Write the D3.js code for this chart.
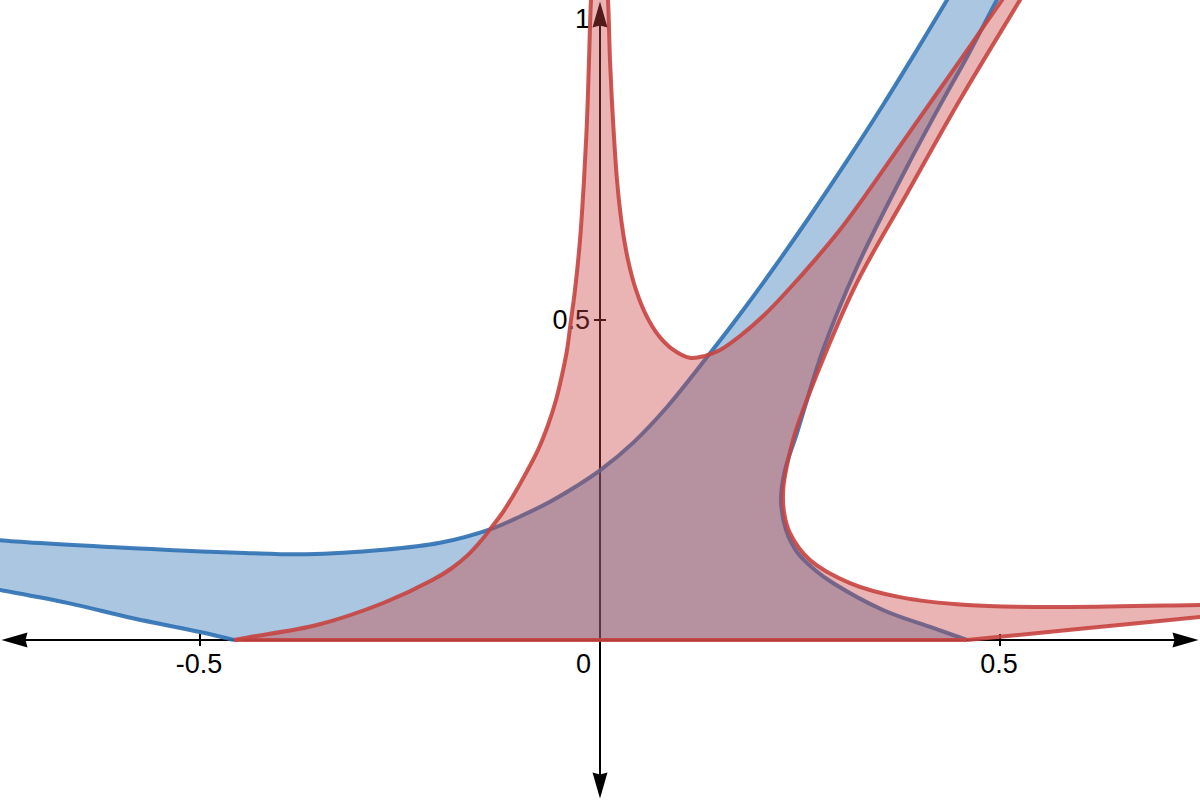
<!DOCTYPE html>
<html>
<head>
<meta charset="utf-8">
<script src="https://cdn.jsdelivr.net/npm/d3@7"></script>
<style>
  html, body { margin: 0; padding: 0; background: #ffffff; }
  svg { display: block; }
  .lbl { font-family: "Liberation Sans", Arial, sans-serif; font-size: 27px; fill: #000; }
</style>
</head>
<body>
<svg id="chart" width="1200" height="800"></svg>
<script>
// ---- data (data units) ----
const blueUpper = [
  [-0.7625, 0.158], [-0.75, 0.156], [-0.606, 0.145], [-0.444, 0.136], [-0.3675, 0.134],
  [-0.271, 0.141], [-0.200, 0.152], [-0.1375, 0.173], [-0.100, 0.193], [-0.0625, 0.216],
  [-0.03125, 0.239], [0.000, 0.265], [0.04125, 0.308], [0.08375, 0.364], [0.1375, 0.448],
  [0.175, 0.509], [0.21875, 0.584], [0.2625, 0.6625], [0.3125, 0.756], [0.35375, 0.836],
  [0.39375, 0.917], [0.43375, 1.000], [0.450, 1.035]
];
const blueLowerLeft = [
  [-0.7625, 0.081], [-0.75, 0.078], [-0.666, 0.058], [-0.584, 0.034], [-0.5, 0.0125], [-0.4575, 0]
];
const blueLowerRight = [
  [0.50375, 1.0156], [0.49625, 1.0], [0.45875, 0.9109], [0.42875, 0.8438], [0.38375, 0.7391],
  [0.32125, 0.5828], [0.27875, 0.4531], [0.24625, 0.3234], [0.23125, 0.2656], [0.22625, 0.2188],
  [0.2325, 0.1719], [0.24625, 0.1375], [0.26875, 0.1094], [0.29125, 0.0891], [0.35375, 0.0469],
  [0.41625, 0.0188], [0.45875, 0]
];
const redLeft = [
  [-0.4575, 0], [-0.4375, 0.0047], [-0.354, 0.0234], [-0.271, 0.0578], [-0.209, 0.094],
  [-0.185, 0.1125], [-0.165, 0.133], [-0.14875, 0.155], [-0.135, 0.177], [-0.12125, 0.200],
  [-0.10875, 0.225], [-0.09375, 0.258], [-0.0775, 0.297], [-0.065, 0.336], [-0.055, 0.375],
  [-0.0475, 0.414], [-0.04125, 0.453], [-0.03625, 0.5], [-0.03125, 0.547], [-0.025, 0.625],
  [-0.02, 0.719], [-0.01625, 0.8125], [-0.01375, 0.906], [-0.01125, 1.0], [-0.009, 1.035]
];
const redInner = [
  [0.0075, 1.035], [0.01, 1.0], [0.0125, 0.906], [0.01625, 0.8125], [0.02125, 0.719],
  [0.0275, 0.648], [0.035, 0.594], [0.045, 0.547], [0.0575, 0.508], [0.0725, 0.477],
  [0.09, 0.455], [0.1125, 0.441], [0.13125, 0.444], [0.15, 0.453], [0.175, 0.475],
  [0.20625, 0.509], [0.2375, 0.550], [0.26875, 0.594], [0.3, 0.641], [0.33125, 0.694],
  [0.375, 0.772], [0.41875, 0.85], [0.4625, 0.928], [0.5025, 1.0], [0.515, 1.022]
];
const redOuter = [
  [0.5325, 1.016], [0.525, 1.0], [0.45, 0.844], [0.384, 0.698], [0.321, 0.558], [0.275, 0.427],
  [0.24375, 0.323], [0.23375, 0.273], [0.229, 0.235], [0.23, 0.200], [0.2375, 0.167],
  [0.2625, 0.125], [0.3125, 0.089], [0.375, 0.067], [0.459, 0.0547], [0.584, 0.0516],
  [0.75, 0.0547], [0.7625, 0.0547]
];
const redLowerRight = [
  [0.459, 0], [0.604, 0.018], [0.75, 0.036], [0.7625, 0.0375]
];
const baseSegment = [[-0.4575, 0], [0.459, 0]];

const xTickValues = [-0.5, 0.5];
const xTickLabels = ["-0.5", "0.5"];
const yTickValues = [0.5, 1];
const yTickLabels = ["0.5", "1"];
const originLabel = "0";

const blueColor = "#2d70b3";
const redColor = "#c74440";

// ---- scales ----
const W = 1200, H = 800;
const x = d3.scaleLinear().domain([-0.75, 0.75]).range([0, W]);
const y = d3.scaleLinear().domain([-0.25, 1]).range([H, 0]);

const svg = d3.select("#chart");
svg.append("defs").append("clipPath").attr("id", "clip")
  .append("rect").attr("x", 0).attr("y", 0).attr("width", W).attr("height", H);

const line = d3.line().x(d => x(d[0])).y(d => y(d[1])).curve(d3.curveCatmullRom.alpha(0.5));
const straight = d3.line().x(d => x(d[0])).y(d => y(d[1]));

function joinPaths(parts) {
  return parts.map((p, i) => i === 0 ? p : p.replace(/^M/, "L")).join("") + "Z";
}
const rev = a => a.slice().reverse();

// ---- axes (drawn under fills) ----
const axes = svg.append("g").attr("class", "axes");
const x0 = x(0), y0 = y(0);
const axColor = "#000";
axes.append("line").attr("x1", x(-0.75) + 14).attr("x2", x(0.75) - 14)
  .attr("y1", y0).attr("y2", y0).attr("stroke", axColor).attr("stroke-width", 2);
axes.append("line").attr("y1", y(1) + 14).attr("y2", y(-0.25) - 14)
  .attr("x1", x0).attr("x2", x0).attr("stroke", axColor).attr("stroke-width", 2);
// arrowheads
const aL = 26, aW = 7.5, tipPad = 1.5;
function arrow(tx, ty, dx, dy) {
  const bx = tx - dx * aL, by = ty - dy * aL;
  const px = -dy, py = dx;
  return `M${tx},${ty}L${bx + px * aW},${by + py * aW}L${bx + dx * 2},${by + dy * 2}L${bx - px * aW},${by - py * aW}Z`;
}
axes.append("path").attr("d", arrow(x(-0.75) + tipPad, y0, -1, 0)).attr("fill", axColor);
axes.append("path").attr("d", arrow(x(0.75) - tipPad, y0, 1, 0)).attr("fill", axColor);
axes.append("path").attr("d", arrow(x0, y(1) + tipPad, 0, -1)).attr("fill", axColor);
axes.append("path").attr("d", arrow(x0, y(-0.25) - tipPad, 0, 1)).attr("fill", axColor);

// ticks
axes.selectAll(".xt").data(xTickValues).enter().append("line")
  .attr("x1", d => x(d)).attr("x2", d => x(d)).attr("y1", y0 - 6).attr("y2", y0 + 6)
  .attr("stroke", axColor).attr("stroke-width", 2);
axes.selectAll(".yt").data(yTickValues.filter(v => v < 1)).enter().append("line")
  .attr("y1", d => y(d)).attr("y2", d => y(d)).attr("x1", x0 - 6).attr("x2", x0 + 6)
  .attr("stroke", axColor).attr("stroke-width", 2);

// labels
axes.selectAll(".xl").data(xTickValues).enter().append("text").attr("class", "lbl")
  .attr("x", d => x(d) - 1).attr("y", y0 + 33).attr("text-anchor", "middle")
  .text((d, i) => xTickLabels[i]);
axes.selectAll(".yl").data(yTickValues).enter().append("text").attr("class", "lbl")
  .attr("x", x0 - 10).attr("y", d => d === 1 ? y(d) + 28 : y(d) + 9).attr("text-anchor", "end")
  .text((d, i) => yTickLabels[i]);
axes.append("text").attr("class", "lbl").attr("x", x0 - 9).attr("y", y0 + 33)
  .attr("text-anchor", "end").text(originLabel);

// ---- regions ----
const plot = svg.append("g").attr("clip-path", "url(#clip)");

const blueFill = joinPaths([line(blueUpper), line(blueLowerRight), straight(rev(baseSegment)), line(rev(blueLowerLeft))]);
const redFill = joinPaths([line(redLeft), line(redInner), line(redOuter), line(rev(redLowerRight)), straight(rev(baseSegment))]);

plot.append("path").attr("d", blueFill).attr("fill", blueColor).attr("fill-opacity", 0.4).attr("stroke", "none");
[blueUpper, blueLowerLeft, blueLowerRight].forEach(c => {
  plot.append("path").attr("d", line(c)).attr("fill", "none").attr("stroke", blueColor)
    .attr("stroke-opacity", 0.9).attr("stroke-width", 4).attr("stroke-linejoin", "round");
});
plot.append("path").attr("d", redFill).attr("fill", redColor).attr("fill-opacity", 0.4).attr("stroke", "none");
[redLeft, redInner, redOuter, redLowerRight].forEach(c => {
  plot.append("path").attr("d", line(c)).attr("fill", "none").attr("stroke", redColor)
    .attr("stroke-opacity", 0.9).attr("stroke-width", 4).attr("stroke-linejoin", "round");
});
plot.append("path").attr("d", straight(baseSegment)).attr("fill", "none").attr("stroke", redColor)
  .attr("stroke-opacity", 0.9).attr("stroke-width", 4);
</script>
</body>
</html>
